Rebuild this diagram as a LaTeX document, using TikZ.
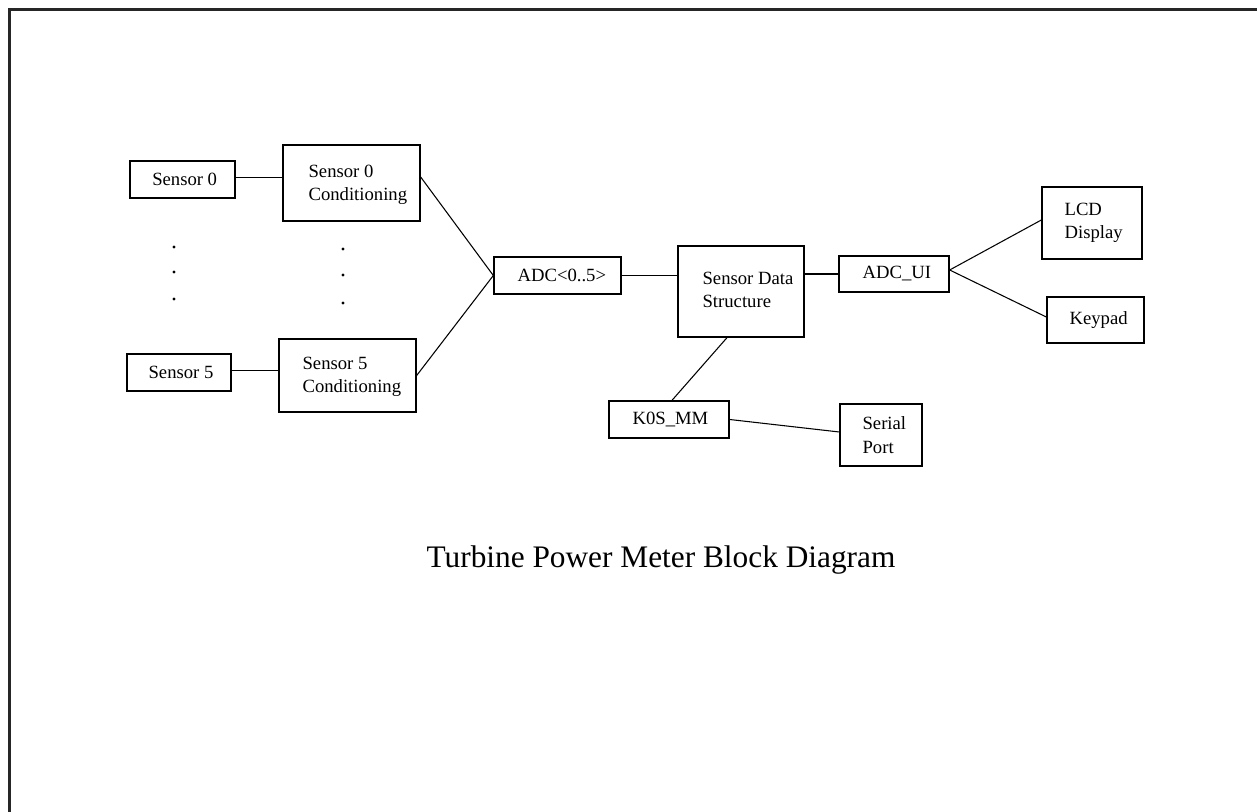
\documentclass[tikz,border=0pt]{standalone}
\usepackage{fontspec}
\setmainfont{Liberation Serif}
\begin{document}
\begin{tikzpicture}[x=0.75pt,y=-0.75pt,
  blk/.style={draw, line width=1pt, inner sep=0pt, rectangle},
  lbl/.style={inner sep=0pt, anchor=west, align=left, font=\fontsize{14}{17.5}\selectfont},
  wire/.style={line width=0.8pt},
  frame/.style={line width=1.6pt, black!85}]
\useasboundingbox (0,0) rectangle (1257,812);
\draw[frame] (9.5,830) -- (9.5,9.5) -- (1270,9.5);

% boxes
\node[blk, minimum width=78.75pt, minimum height=27.75pt] (s0) at (182.5,179.5) {};
\node[blk, minimum width=102.75pt, minimum height=57pt] (c0) at (351.5,183) {};
\node[blk, minimum width=78pt, minimum height=27.75pt] (s5) at (179,372.5) {};
\node[blk, minimum width=102.75pt, minimum height=54.75pt] (c5) at (347.5,375.5) {};
\node[blk, minimum width=95.25pt, minimum height=27.75pt] (adc) at (557.5,275.5) {};
\node[blk, minimum width=94.5pt, minimum height=68.25pt] (sds) at (741,291.5) {};
\node[blk, minimum width=90pt, minimum height=27.75pt] (kos) at (669,419.5) {};
\node[blk, minimum width=82.5pt, minimum height=27pt] (ui) at (894,274) {};
\node[blk, minimum width=75pt, minimum height=54pt] (lcd) at (1092,223) {};
\node[blk, minimum width=72.75pt, minimum height=34.5pt] (key) at (1095.5,320) {};
\node[blk, minimum width=61.5pt, minimum height=46.5pt] (ser) at (881,435) {};

% labels
\node[lbl] (s0t) at ([xshift=17pt]s0.west) {Sensor 0};
\node[lbl] (c0t) at ([xshift=19.5pt,yshift=-1.5pt]c0.west) {Sensor 0\\Conditioning};
\node[lbl] (s5t) at ([xshift=16.5pt]s5.west) {Sensor 5};
\node[lbl] (c5t) at ([xshift=18pt,yshift=-1pt]c5.west) {Sensor 5\\Conditioning};
\node[lbl] (adct) at ([xshift=18pt]adc.west) {ADC<0..5>};
\node[lbl] (sdst) at ([xshift=18.75pt,yshift=1pt]sds.west) {Sensor Data\\Structure};
\node[lbl] (kost) at ([xshift=18pt]kos.west) {K0S\_MM};
\node[lbl] (uit) at ([xshift=18pt]ui.west) {ADC\_UI};
\node[lbl] (lcdt) at ([xshift=17.25pt]lcd.west) {LCD\\Display};
\node[lbl] (keyt) at ([xshift=17.25pt]key.west) {Keypad};
\node[lbl] (sert) at ([xshift=17.25pt]ser.west) {Serial\\Port};

% connectors
\draw[wire] ([yshift=1.5pt]s0.east) -- ([yshift=1.5pt]s0.east -| c0.west);
\draw[wire] ([yshift=1.5pt]s5.east) -- ([yshift=1.5pt]s5.east -| c5.west);
\draw[wire] ([yshift=4.5pt]c0.east) -- (adc.west);
\draw[wire] (c5.east) -- (adc.west);
\draw[wire] (adc.east) -- (adc.east -| sds.west);
\draw[wire] (ui.west -| sds.east) -- (ui.west);
\draw[wire] ([xshift=-10.5pt]sds.south) -- ([xshift=2.25pt]kos.north);
\draw[wire] (kos.east) -- ([yshift=2.25pt]ser.west);
\draw[wire] ([yshift=3pt]ui.east) -- ([yshift=2.25pt]lcd.west);
\draw[wire] ([yshift=3pt]ui.east) -- ([yshift=2.25pt]key.west);

% ellipsis dots
\foreach \yy in {247,272,299} \fill (174,\yy) circle (1.7);
\foreach \yy in {249,275,303} \fill (343,\yy) circle (1.7);

% title
\node[inner sep=0pt, anchor=base, font=\fontsize{23.5}{28}\selectfont] (title) at (661,568) {Turbine Power Meter Block Diagram};
\end{tikzpicture}
\end{document}
